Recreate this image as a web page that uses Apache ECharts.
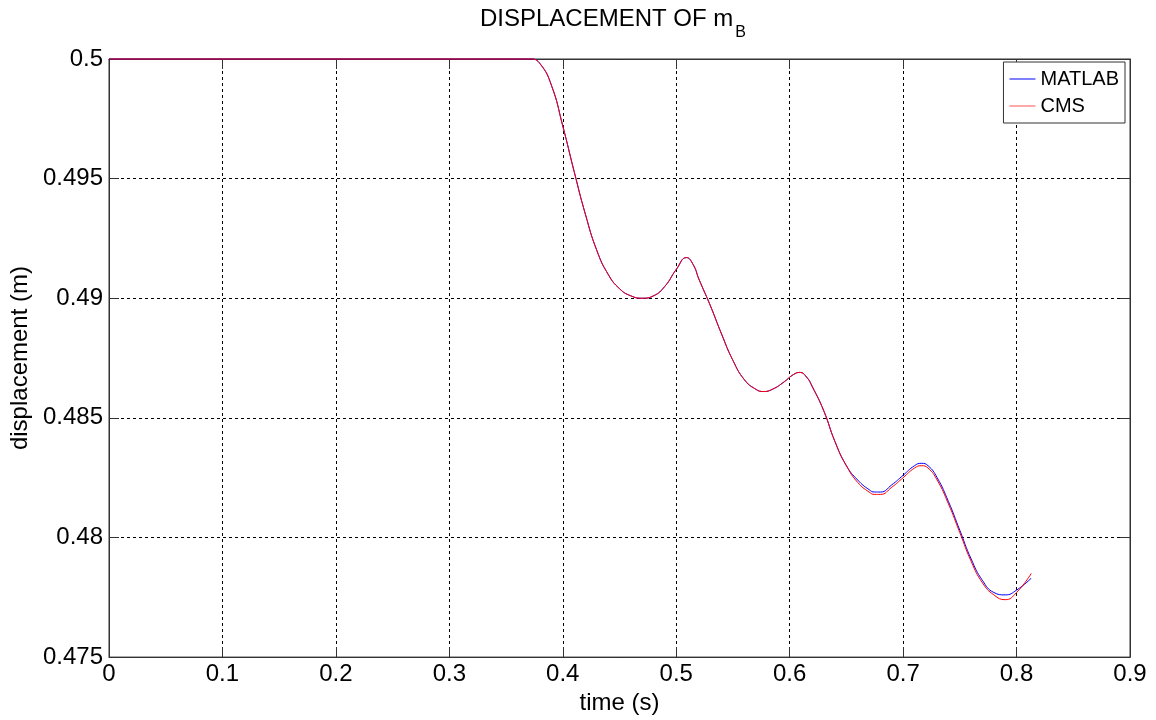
<!DOCTYPE html>
<html>
<head>
<meta charset="utf-8">
<title>Displacement of mB</title>
<script src="https://cdn.jsdelivr.net/npm/echarts@6/dist/echarts.min.js"></script>
<style>
  html, body { margin: 0; padding: 0; background: #fff; }
  #chart { width: 1156px; height: 720px; }
</style>
</head>
<body>
<div id="chart"></div>
<script>
// time samples (s)
const timeS = [
  0, 0.1, 0.2, 0.3, 0.36, 0.372, 0.38, 0.39, 0.40, 0.41, 0.42, 0.43, 0.44, 0.45,
  0.46, 0.47, 0.48, 0.49, 0.50, 0.509, 0.515, 0.52, 0.53, 0.54, 0.55, 0.56, 0.57,
  0.577, 0.585, 0.595, 0.603, 0.609, 0.615, 0.62, 0.63, 0.64, 0.65, 0.66, 0.67,
  0.675, 0.68, 0.69, 0.70, 0.71, 0.716, 0.722, 0.73, 0.74, 0.75, 0.76, 0.77,
  0.78, 0.79, 0.80, 0.813
];

// displacement of mass B (m), MATLAB solution
const matlabDisp = [
  0.5, 0.5, 0.5, 0.5, 0.5, 0.5, 0.4998, 0.4989, 0.4972, 0.4953, 0.4935, 0.4920, 0.4910, 0.4904,
  0.4901, 0.4900, 0.4901, 0.4905, 0.4912, 0.4917, 0.4914, 0.4908, 0.4897, 0.4885, 0.4874, 0.4866, 0.4862,
  0.4861, 0.4862, 0.4865, 0.4868, 0.4869, 0.4867, 0.4863, 0.4853, 0.4840, 0.4830, 0.4824, 0.4820,
  0.4819, 0.4819, 0.4822, 0.4826, 0.4830, 0.4831, 0.4830, 0.4825, 0.4815, 0.4803, 0.4791, 0.4782,
  0.4777, 0.4776, 0.4778, 0.4783
];

// displacement of mass B (m), CMS solution
const cmsDisp = [
  0.5, 0.5, 0.5, 0.5, 0.5, 0.5, 0.4998, 0.4989, 0.4972, 0.4953, 0.4935, 0.4920, 0.4910, 0.4904,
  0.4901, 0.4900, 0.4901, 0.4905, 0.4912, 0.4917, 0.4914, 0.4908, 0.4897, 0.4885, 0.4874, 0.4866, 0.4862,
  0.4861, 0.4862, 0.4865, 0.4868, 0.4869, 0.4867, 0.4863, 0.4853, 0.4840, 0.4830, 0.4823, 0.4819,
  0.4818, 0.4818, 0.4821, 0.4825, 0.4829, 0.4830, 0.4829, 0.4824, 0.4814, 0.4802, 0.4790, 0.4781,
  0.4776, 0.4774, 0.4777, 0.4785
];

const xTicks = { min: 0, max: 0.9, step: 0.1 };
const yTicks = { min: 0.475, max: 0.5, step: 0.005 };

const FONT = '"Liberation Sans", Arial, sans-serif';

function pairs(xs, ys) {
  return xs.map((x, i) => [x, ys[i]]);
}

const chart = echarts.init(document.getElementById('chart'), null, { renderer: 'canvas' });

const gridLine = { show: true, lineStyle: { color: '#000', width: 1, type: [3, 3] } };
const tickIn = { show: true, inside: true, length: 10, lineStyle: { color: '#333', width: 1 } };

chart.setOption({
  backgroundColor: '#fff',
  animation: false,
  title: {
    text: '{a|DISPLACEMENT OF m}{b|B}',
    left: 480,
    top: 7,
    padding: 0,
    textStyle: {
      fontWeight: 'normal',
      rich: {
        a: { fontFamily: FONT, fontSize: 24, fontWeight: 'normal', lineHeight: 28, color: '#000', verticalAlign: 'top' },
        b: { fontFamily: FONT, fontSize: 16, fontWeight: 'normal', lineHeight: 16, color: '#000', verticalAlign: 'top', padding: [18, 0, 0, 2] }
      }
    }
  },
  legend: {
    data: [
      { name: 'MATLAB', icon: 'rect', itemStyle: { color: '#0000ff' } },
      { name: 'CMS', icon: 'rect', itemStyle: { color: '#ff5050' } }
    ],
    orient: 'vertical',
    right: 31,
    top: 62,
    padding: [6, 6, 6, 6],
    itemGap: 5,
    itemWidth: 26,
    itemHeight: 1,
    backgroundColor: '#fff',
    borderColor: '#333',
    borderWidth: 1,
    borderRadius: 0,
    textStyle: { fontFamily: FONT, fontSize: 20, lineHeight: 22, color: '#000' }
  },
  grid: {
    left: 109, right: 26, top: 59, bottom: 62,
    show: true, borderColor: '#333', borderWidth: 1, backgroundColor: '#fff'
  },
  xAxis: [
    {
      type: 'value', min: xTicks.min, max: xTicks.max, interval: xTicks.step,
      name: 'time (s)', nameLocation: 'middle', nameGap: 31,
      nameTextStyle: { fontFamily: FONT, fontSize: 24, color: '#000' },
      axisLine: { show: true, onZero: false, lineStyle: { color: '#333' } },
      axisTick: tickIn,
      axisLabel: {
        fontFamily: FONT, fontSize: 24, color: '#000', margin: 5,
        formatter: v => String(+v.toFixed(2))
      },
      splitLine: gridLine
    },
    {
      type: 'value', position: 'top', min: xTicks.min, max: xTicks.max, interval: xTicks.step,
      axisLine: { show: true, onZero: false, lineStyle: { color: '#333' } },
      axisTick: tickIn, axisLabel: { show: false }, splitLine: { show: false }
    }
  ],
  yAxis: [
    {
      type: 'value', min: yTicks.min, max: yTicks.max, interval: yTicks.step,
      name: 'displacement (m)', nameLocation: 'middle', nameGap: 77,
      nameTextStyle: { fontFamily: FONT, fontSize: 24, color: '#000' },
      axisLine: { show: true, onZero: false, lineStyle: { color: '#333' } },
      axisTick: tickIn,
      axisLabel: {
        fontFamily: FONT, fontSize: 24, color: '#000', margin: 6,
        formatter: v => String(+v.toFixed(3))
      },
      splitLine: gridLine
    },
    {
      type: 'value', position: 'right', min: yTicks.min, max: yTicks.max, interval: yTicks.step,
      axisLine: { show: true, onZero: false, lineStyle: { color: '#333' } },
      axisTick: tickIn, axisLabel: { show: false }, splitLine: { show: false }
    }
  ],
  series: [
    {
      name: 'MATLAB', type: 'line', xAxisIndex: 0, yAxisIndex: 0,
      data: pairs(timeS, matlabDisp),
      symbol: 'none', smooth: 0.5, clip: false,
      lineStyle: { color: '#0000ff', width: 1 }, itemStyle: { color: '#0000ff' },
      z: 3
    },
    {
      name: 'CMS', type: 'line', xAxisIndex: 0, yAxisIndex: 0,
      data: pairs(timeS, cmsDisp),
      symbol: 'none', smooth: 0.5, clip: false,
      lineStyle: { color: '#ff0000', width: 1 }, itemStyle: { color: '#ff0000' },
      z: 4
    }
  ]
});
</script>
</body>
</html>
